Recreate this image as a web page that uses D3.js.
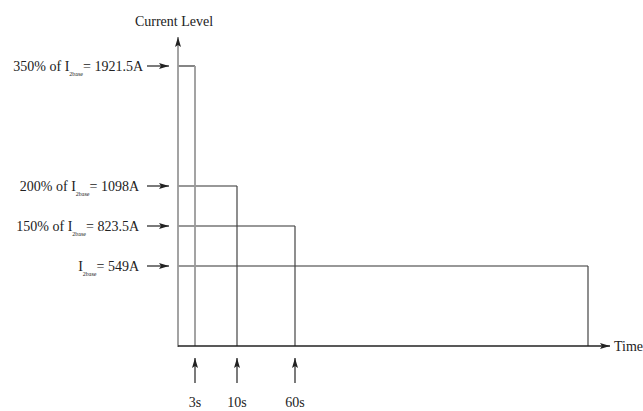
<!DOCTYPE html>
<html>
<head>
<meta charset="utf-8">
<script src="https://cdn.jsdelivr.net/npm/d3@7"></script>
<style>
  body { margin: 0; background: #fff; }
</style>
</head>
<body>
<svg id="chart" width="643" height="411"></svg>
<script>
// current levels (A) and how long each one may last
var levelPrefix = ["350% of ", "200% of ", "150% of ", ""];
var levelAmps = [1921.5, 1098, 823.5, 549];
var levelTimes = [3, 10, 60, 600];          // 600 = "continuous", drawn schematic
var timeTicks = [3, 10, 60];
var timeTickLabels = ["3s", "10s", "60s"];

var FONT = "'Liberation Serif'";
var svg = d3.select("#chart");

// y is linear in amps, x is a schematic (not to scale) time axis
var y = d3.scaleLinear().domain([0, 1921.5]).range([346, 66]);
var x = d3.scaleLinear().domain([0, 3, 10, 60, 600]).range([178, 195, 237, 295, 588]);

var defs = svg.append("defs");
defs.append("marker")
  .attr("id", "arr")
  .attr("viewBox", "0 0 10 6")
  .attr("refX", 10).attr("refY", 3)
  .attr("markerWidth", 10).attr("markerHeight", 6)
  .attr("markerUnits", "userSpaceOnUse")
  .attr("orient", "auto")
  .append("path").attr("d", "M0,0 L10,3 L0,6 L2,3 Z").attr("fill", "#222");

function label(sel, size) {
  return sel.style("font-family", FONT).style("font-size", size + "px").attr("fill", "#222");
}

// level lines
var g = svg.append("g");
g.selectAll(".hline").data(levelAmps).enter().append("line")
  .attr("x1", x(0)).attr("x2", function(d, i) { return x(levelTimes[i]); })
  .attr("y1", function(d) { return y(d); }).attr("y2", function(d) { return y(d); })
  .attr("stroke", "#333").attr("stroke-width", 1.2);

g.selectAll(".vline").data(levelAmps).enter().append("line")
  .attr("x1", function(d, i) { return x(levelTimes[i]); })
  .attr("x2", function(d, i) { return x(levelTimes[i]); })
  .attr("y1", function(d) { return y(d); }).attr("y2", y(0))
  .attr("stroke", function(d, i) { return i === 0 ? "#999" : "#444"; })
  .attr("stroke-width", function(d, i) { return i === 0 ? 1.8 : 1.2; });

// axes
svg.append("line")
  .attr("x1", x(0)).attr("x2", x(0)).attr("y1", y(0) + 1).attr("y2", 37)
  .attr("stroke", "#999").attr("stroke-width", 1.8).attr("marker-end", "url(#arr)");
svg.append("line")
  .attr("x1", x(0)).attr("x2", 610).attr("y1", y(0)).attr("y2", y(0))
  .attr("stroke", "#222").attr("stroke-width", 1.5).attr("marker-end", "url(#arr)");

label(svg.append("text"), 14).attr("x", 174).attr("y", 26)
  .attr("text-anchor", "middle").text("Current Level");
label(svg.append("text"), 14).attr("x", 614).attr("y", 351).text("Time");

// level labels with arrows
var lab = svg.selectAll(".lab").data(levelAmps).enter().append("g");
lab.append("line")
  .attr("x1", 147).attr("x2", 169)
  .attr("y1", function(d) { return y(d); }).attr("y2", function(d) { return y(d); })
  .attr("stroke", "#222").attr("stroke-width", 1.2).attr("marker-end", "url(#arr)");
var t = label(lab.append("text"), 14)
  .attr("x", function(d, i) { return i === 0 ? 143 : 139; })
  .attr("y", function(d) { return y(d) + 5; })
  .attr("text-anchor", "end");
t.append("tspan").text(function(d, i) { return levelPrefix[i] + "I"; });
t.append("tspan").attr("dy", 5).style("font-size", "6px").text("2base");
t.append("tspan").attr("dy", -5).text(function(d) { return "= " + d + "A"; });

// time tick arrows
var tk = svg.selectAll(".tk").data(timeTicks).enter().append("g");
tk.append("line")
  .attr("x1", function(d) { return x(d); }).attr("x2", function(d) { return x(d); })
  .attr("y1", 383).attr("y2", 358)
  .attr("stroke", "#222").attr("stroke-width", 1.2).attr("marker-end", "url(#arr)");
label(tk.append("text"), 14)
  .attr("x", function(d) { return x(d); }).attr("y", 407)
  .attr("text-anchor", "middle")
  .text(function(d, i) { return timeTickLabels[i]; });
</script>
</body>
</html>
